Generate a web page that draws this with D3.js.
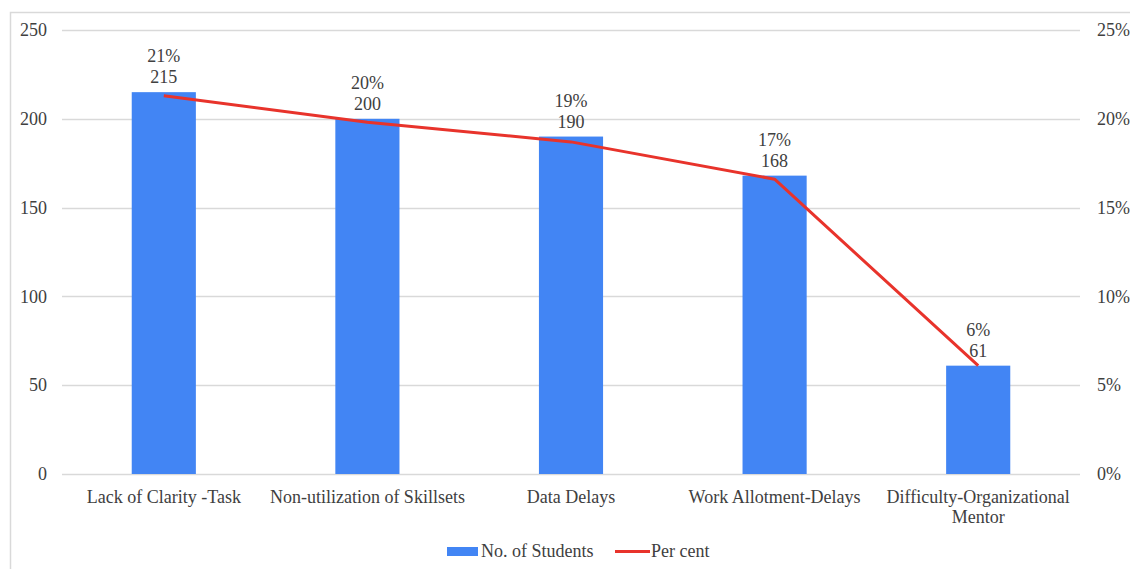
<!DOCTYPE html>
<html>
<head>
<meta charset="utf-8">
<script src="https://cdn.jsdelivr.net/npm/d3@7"></script>
<style>
  html, body { margin: 0; padding: 0; background: #fff; }
  svg { display: block; font-family: "Liberation Serif", "Times New Roman", serif; }
</style>
</head>
<body>
<svg id="chart" width="1130" height="569"></svg>
<script>
// Categories and series
const categories = [
  "Lack of Clarity -Task",
  "Non-utilization of Skillsets",
  "Data Delays",
  "Work Allotment-Delays",
  "Difficulty-Organizational Mentor"
];
const students = [215, 200, 190, 168, 61];
const perCent = [0.213, 0.198, 0.187, 0.166, 0.061];
const leftTicks = [0, 50, 100, 150, 200, 250];
const rightTicks = [0, 0.05, 0.10, 0.15, 0.20, 0.25];
const seriesNames = ["No. of Students", "Per cent"];

const svg = d3.select("#chart");
const W = 1130, H = 569;
const plot = { left: 62, right: 1080, top: 30, bottom: 474 };
const fontFamily = "Liberation Serif";
const fontSize = 18;
const textColor = "#404040";
const barColor = "#4285f4";
const lineColor = "#e8332b";
const gridColor = "#d9d9d9";

// outer chart frame
svg.append("rect")
  .attr("x", 10.5).attr("y", 12.5)
  .attr("width", W + 20).attr("height", H + 20)
  .attr("fill", "none").attr("stroke", gridColor).attr("stroke-width", 1.5);

const x = d3.scaleBand().domain(categories).range([plot.left, plot.right]).padding(0);
const yL = d3.scaleLinear().domain([0, 250]).range([plot.bottom, plot.top]);
const yR = d3.scaleLinear().domain([0, 0.25]).range([plot.bottom, plot.top]);
const barW = x.bandwidth() * 0.315;

// gridlines
svg.append("g")
  .selectAll("line").data(leftTicks).join("line")
  .attr("x1", plot.left).attr("x2", plot.right)
  .attr("y1", d => Math.round(yL(d)) + 0.5).attr("y2", d => Math.round(yL(d)) + 0.5)
  .attr("stroke", gridColor).attr("stroke-width", 1.5);

function styleText(sel) {
  sel.attr("font-family", fontFamily).attr("font-size", fontSize).attr("fill", textColor);
}

// left axis
const axL = svg.append("g")
  .attr("transform", `translate(${plot.left},0)`)
  .call(d3.axisLeft(yL).tickValues(leftTicks).tickSize(0).tickPadding(15).tickFormat(d3.format("d")));
axL.select(".domain").remove();
axL.selectAll("text").call(styleText);

// right axis
const axR = svg.append("g")
  .attr("transform", `translate(${plot.right},0)`)
  .call(d3.axisRight(yR).tickValues(rightTicks).tickSize(0).tickPadding(17).tickFormat(d3.format(".0%")));
axR.select(".domain").remove();
axR.selectAll("text").call(styleText);

// category axis
const axB = svg.append("g")
  .attr("transform", `translate(0,${plot.bottom})`)
  .call(d3.axisBottom(x).tickSize(0).tickPadding(16));
axB.select(".domain").remove();
axB.selectAll("text")
  .call(styleText)
  .each(function(d) {
    if (d === "Difficulty-Organizational Mentor") {
      const t = d3.select(this);
      t.text(null);
      t.append("tspan").attr("x", 0).attr("dy", "0.71em").text("Difficulty-Organizational");
      t.append("tspan").attr("x", 0).attr("dy", "1.12em").text("Mentor");
    }
  });

// bars
svg.append("g")
  .selectAll("rect").data(categories).join("rect")
  .attr("x", d => x(d) + x.bandwidth() / 2 - barW / 2)
  .attr("width", barW)
  .attr("y", (d, i) => yL(students[i]))
  .attr("height", (d, i) => yL(0) - yL(students[i]))
  .attr("fill", barColor);

// percent line
const line = d3.line()
  .x((d, i) => x(categories[i]) + x.bandwidth() / 2)
  .y(d => yR(d));
svg.append("path")
  .datum(perCent)
  .attr("d", line)
  .attr("fill", "none")
  .attr("stroke", lineColor)
  .attr("stroke-width", 3)
  .attr("stroke-linejoin", "round");

// data labels: percent above count
const labels = svg.append("g").call(styleText).attr("text-anchor", "middle");
categories.forEach((c, i) => {
  const cx = x(c) + x.bandwidth() / 2;
  const top = yL(students[i]);
  labels.append("text").attr("x", cx).attr("y", top - 9).text(students[i]);
  labels.append("text").attr("x", cx).attr("y", top - 30).text(d3.format(".0%")(perCent[i]));
});

// legend
const lg = svg.append("g").call(styleText);
lg.append("rect").attr("x", 447).attr("y", 547).attr("width", 31).attr("height", 9).attr("fill", barColor);
lg.append("text").attr("x", 481).attr("y", 557).text(seriesNames[0]);
lg.append("line").attr("x1", 615).attr("x2", 650).attr("y1", 551.5).attr("y2", 551.5)
  .attr("stroke", lineColor).attr("stroke-width", 3);
lg.append("text").attr("x", 651).attr("y", 557).text(seriesNames[1]);
</script>
</body>
</html>
